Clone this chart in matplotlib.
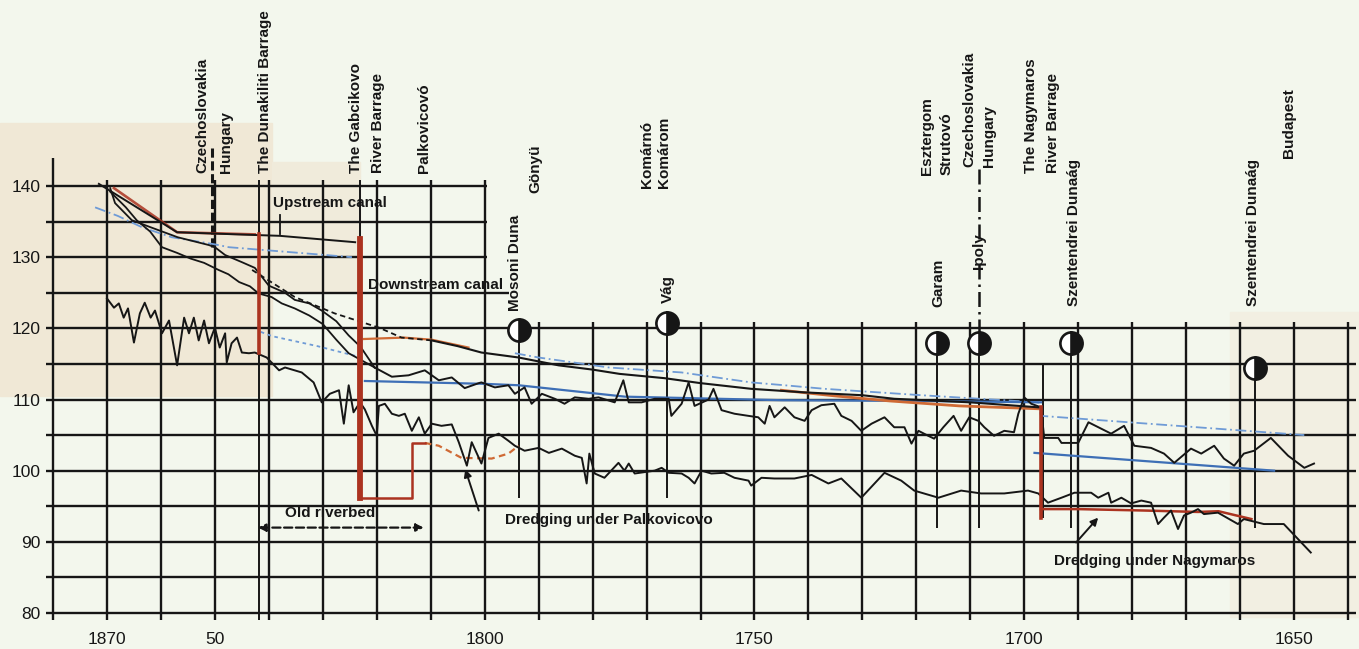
import matplotlib.pyplot as plt
from matplotlib.patches import Rectangle

plt.rcParams['font.family'] = ['Liberation Sans', 'DejaVu Sans']

# ---- data: river km (x) and elevation in m a.s.l. (y) ----
top_km = [1871.5, 1857.0, 1842.0, 1838.0, 1824.0]
top_el = [140.3, 133.5, 133.1, 133.0, 132.1]

red_top_km = [1868.7, 1857.0, 1842.6]
red_top_el = [139.7, 133.5, 133.2]

l2_km = [1869.4, 1868.5, 1865.4, 1861.9, 1856.9, 1851.1, 1850.0, 1848.1, 1845.0, 1842.6,
         1840.0, 1837.0, 1835.2, 1832.5, 1830.2, 1827.5, 1825.2, 1823.0, 1820.4]
l2_el = [139.7, 137.6, 135.2, 134.2, 132.8, 131.7, 131.4, 130.3, 129.3, 128.5,
         126.0, 125.0, 124.0, 123.5, 122.5, 121.0, 119.0, 117.4, 114.5]

l3_km = [1869.4, 1866.5, 1864.5, 1862.0, 1859.8, 1857.0, 1854.5, 1852.0, 1849.3, 1847.5,
         1845.5, 1843.5, 1841.9, 1839.5, 1837.6, 1835.2, 1832.5, 1830.0, 1827.5, 1825.2, 1820.4]
l3_el = [139.2, 137.0, 135.2, 133.6, 131.4, 130.6, 129.8, 129.2, 128.2, 127.6,
         126.5, 125.9, 124.9, 124.4, 123.5, 122.8, 121.8, 120.6, 118.4, 116.5, 114.5]

dash_km = [1843.1, 1835.2, 1827.8, 1819.6, 1815.4, 1809.8]
dash_el = [128.2, 124.4, 122.1, 120.1, 118.7, 118.3]

tail_km = [1822.4, 1815.0, 1809.8, 1803.0]
tail_el = [118.5, 118.7, 118.4, 117.3]

b_km = [1809.8, 1805.0, 1800.6, 1793.7, 1786.3, 1780.0, 1775.0, 1766.7, 1760.0, 1750.6,
        1740.7, 1730.0, 1724.1, 1710.0, 1697.4]
b_el = [118.3, 117.5, 116.6, 115.9, 114.8, 114.2, 113.6, 113.0, 112.3, 111.5,
        111.0, 110.6, 110.1, 109.6, 108.9]

red_res_km = [1745.0, 1735.0, 1725.0, 1712.0, 1697.4]
red_res_el = [111.3, 110.5, 109.8, 109.1, 108.7]

m_km = [1820.4, 1817.2, 1814.1, 1811.1, 1808.5, 1806.1, 1803.7, 1801.1, 1800.6, 1798.1,
        1795.6, 1794.4, 1792.6, 1791.3, 1789.4, 1787.0, 1785.2, 1783.3, 1780.7, 1778.9,
        1775.9, 1774.3, 1773.3, 1770.9, 1768.5, 1765.9, 1765.4, 1763.5, 1762.2, 1761.1,
        1758.5, 1757.6, 1756.1, 1753.7, 1751.1, 1749.3, 1748.1, 1747.2, 1746.3, 1744.4,
        1742.6, 1740.7, 1739.4, 1737.6, 1735.2, 1733.9, 1732.0, 1730.2, 1728.3, 1725.9,
        1724.1, 1722.2, 1720.9, 1719.6, 1717.8, 1716.7, 1715.0, 1713.1, 1711.7, 1710.2,
        1708.5, 1707.4, 1705.6, 1703.7, 1701.9, 1701.1, 1700.0, 1698.7, 1696.9, 1696.3,
        1693.7, 1693.1, 1690.0, 1688.1, 1683.9, 1681.5, 1679.6, 1676.5, 1674.1, 1672.2,
        1669.1, 1667.2, 1664.8, 1663.0, 1661.1, 1659.3, 1657.4, 1654.3, 1651.1, 1648.1, 1646.3]
m_el = [114.5, 113.2, 113.4, 114.1, 112.7, 113.1, 111.6, 112.3, 112.4, 111.7,
        112.0, 110.8, 111.7, 109.4, 110.8, 110.1, 109.4, 110.3, 110.1, 110.3,
        109.6, 112.7, 109.6, 109.6, 110.1, 110.1, 107.7, 109.4, 112.4, 109.1,
        110.0, 111.5, 108.5, 108.0, 107.7, 107.5, 106.6, 109.1, 107.5, 108.9,
        107.5, 107.0, 108.5, 109.2, 109.4, 107.7, 107.0, 105.6, 106.6, 107.5,
        106.1, 106.1, 103.8, 105.6, 104.9, 104.5, 106.1, 107.7, 105.6, 107.5,
        107.0, 106.1, 104.9, 105.6, 105.4, 108.0, 110.3, 109.4, 108.9, 104.6,
        104.6, 103.9, 103.9, 106.8, 105.2, 106.3, 103.5, 103.2, 102.4, 101.1,
        103.1, 102.4, 103.5, 101.7, 100.7, 102.4, 102.8, 104.6, 102.1, 100.4, 101.0]

e_km = [1870.0, 1868.7, 1867.8, 1866.9, 1866.1, 1865.0, 1863.9, 1863.0, 1861.9, 1861.1,
        1859.8, 1858.5, 1857.0, 1855.7, 1854.8, 1853.9, 1853.0, 1852.0, 1851.1, 1850.0,
        1849.1, 1848.1, 1847.8, 1846.9, 1845.9, 1845.0, 1843.7, 1842.6, 1840.4, 1838.1,
        1837.0, 1833.9, 1831.7, 1830.2, 1828.7, 1827.0, 1826.1, 1825.2, 1824.3, 1823.1,
        1822.2, 1820.9, 1820.0, 1819.6, 1818.5, 1817.2, 1815.9, 1814.8, 1813.5, 1812.2,
        1811.1, 1809.8, 1808.0, 1806.1, 1804.8, 1803.3, 1802.4, 1800.6, 1799.3, 1797.4,
        1795.6, 1794.4, 1792.6, 1790.0, 1788.1, 1785.7, 1783.3, 1782.0, 1781.1, 1780.6,
        1779.6, 1777.8, 1775.2, 1774.1, 1773.3, 1772.2, 1768.5, 1767.2, 1765.9, 1763.5,
        1762.2, 1761.1, 1759.8, 1758.0, 1755.6, 1753.7, 1751.1, 1750.6, 1748.7, 1746.3,
        1742.6, 1739.4, 1736.3, 1733.9, 1730.2, 1725.9, 1722.8, 1720.4, 1715.9, 1711.7,
        1708.0, 1703.7, 1699.3, 1697.4, 1695.6, 1693.1, 1690.7, 1687.6, 1686.3, 1684.4,
        1683.9, 1682.0, 1680.2, 1678.3, 1676.5, 1675.2, 1674.1, 1672.8, 1671.5, 1670.4,
        1669.1, 1667.8, 1666.7, 1664.1, 1660.4, 1659.3, 1656.7, 1655.6, 1651.9, 1646.9]
e_el = [124.2, 122.9, 123.5, 121.5, 122.8, 118.0, 122.1, 123.6, 121.5, 122.5,
        119.3, 121.1, 114.8, 121.5, 119.3, 121.5, 118.3, 121.1, 117.9, 120.1,
        117.3, 119.3, 115.2, 117.9, 118.7, 116.6, 116.5, 116.6, 115.9, 114.1,
        114.5, 113.8, 112.4, 109.6, 110.8, 111.3, 106.6, 112.0, 108.2, 109.6,
        108.6, 106.3, 104.9, 109.1, 109.4, 108.0, 107.7, 108.0, 105.6, 107.5,
        105.2, 106.6, 106.3, 106.5, 104.0, 100.7, 104.0, 101.0, 104.6, 105.2,
        104.2, 103.5, 102.8, 103.2, 102.5, 103.1, 102.1, 101.8, 98.2, 102.4,
        99.6, 99.0, 101.1, 100.0, 101.0, 99.6, 100.0, 100.4, 99.7, 99.6,
        99.0, 98.2, 100.0, 99.6, 99.7, 99.0, 98.6, 97.9, 99.0, 98.9,
        98.9, 99.4, 98.2, 98.9, 96.2, 99.7, 98.6, 97.2, 96.2, 97.2,
        96.8, 96.8, 97.2, 96.8, 95.5, 96.2, 96.9, 96.9, 96.2, 96.9,
        95.5, 96.2, 95.4, 95.8, 95.5, 92.5, 93.4, 94.4, 91.8, 93.7,
        94.1, 94.6, 93.9, 94.1, 92.5, 93.2, 92.7, 92.5, 92.5, 88.5]

blue_dd_km = [1872.2, 1868.0, 1863.5, 1858.0, 1850.0, 1847.4, 1837.6, 1824.6]
blue_dd_el = [137.0, 135.8, 134.2, 132.8, 131.8, 131.4, 130.8, 130.0]
blue_dd2_km = [1794.4, 1790.0, 1777.0, 1763.5, 1750.6, 1744.4, 1737.0, 1719.0, 1697.4,
               1696.9, 1648.1]
blue_dd2_el = [116.5, 115.9, 114.5, 113.8, 112.4, 112.0, 111.5, 110.6, 109.6,
               107.7, 105.0]
blue_dot_km = [1841.5, 1839.4, 1831.0, 1822.8]
blue_dot_el = [119.5, 118.9, 117.5, 115.9]
blue_low_km = [1822.2, 1800.0, 1793.7, 1774.0, 1745.0, 1720.0, 1696.9]
blue_low_el = [112.6, 112.2, 112.0, 110.4, 109.9, 109.8, 109.6]
blue_low2_km = [1698.1, 1653.7]
blue_low2_el = [102.5, 100.0]

# barrages and dredged reaches
duna_km, duna_el = [1841.9, 1841.9], [133.3, 116.6]
gab_km, gab_el = [1823.1, 1823.1], [132.5, 96.2]
gab_box_km = [1823.1, 1813.5, 1813.5, 1811.1]
gab_box_el = [96.2, 96.2, 103.9, 103.9]
dredge1_km = [1811.1, 1808.5, 1804.3, 1798.7, 1795.6, 1793.7]
dredge1_el = [103.9, 103.5, 101.8, 101.7, 102.4, 103.5]
nagy_km, nagy_el = [1696.9, 1696.9], [108.9, 93.4]
dredge2_km = [1696.9, 1690.0, 1677.8, 1667.8, 1664.0, 1657.9]
dredge2_el = [94.6, 94.6, 94.4, 94.2, 94.3, 93.2]

# tributary mouths (circle symbols)
mouth_km = [1793.7, 1766.3, 1716.1, 1708.3, 1691.3, 1657.2]
mouth_el = [119.7, 120.8, 117.9, 117.9, 118.0, 114.4]
mouth_low = [96.2, 96.2, 92.0, 92.0, 92.0, 92.0]

y_ticks = [80, 90, 100, 110, 120, 130, 140]
x_ticks = [1870, 1850, 1800, 1750, 1700, 1650]
x_ticklabels = ['1870', '50', '1800', '1750', '1700', '1650']

labels = [
    ('Czechoslovakia', 1852.4, 141.8), ('Hungary', 1848.0, 141.8),
    ('The Dunakiliti Barrage', 1840.7, 141.8), ('The Gabcikovo', 1823.9, 141.8),
    ('River Barrage', 1819.8, 141.8), ('Palkovicovó', 1811.3, 141.8),
    ('Mosoni Duna', 1794.4, 122.5), ('Gönyü', 1790.6, 139.0),
    ('Komárnó', 1770.0, 139.7), ('Komárom', 1766.7, 139.7), ('Vág', 1766.1, 123.5),
    ('Esztergom', 1718.0, 141.5), ('Strutovó', 1714.4, 141.5),
    ('Czechoslovakia', 1710.2, 142.7), ('Hungary', 1706.5, 142.7),
    ('Garam', 1715.9, 123.0), ('The Nagymaros', 1698.7, 141.8),
    ('River Barrage', 1694.6, 141.8), ('Szentendrei Dunaág', 1690.7, 123.2),
    ('Szentendrei Dunaág', 1657.6, 123.2), ('Budapest', 1650.9, 143.9),
]

INK = '#161616'
RED = '#ab3320'
ORANGE = '#cf6a35'
BLUE = '#3e6fb6'
LBLUE = '#6f9bd6'

fig = plt.figure(figsize=(13.59, 6.49), dpi=100)
fig.patch.set_facecolor('#f3f7ed')
# scan tint behind parts of the sheet
fig.add_artist(Rectangle((0.0, 0.39), 0.2, 0.42, transform=fig.transFigure,
                         color='#f0e8d6', zorder=-2))
fig.add_artist(Rectangle((0.2, 0.55), 0.065, 0.2, transform=fig.transFigure,
                         color='#f0ebdb', zorder=-2))
fig.add_artist(Rectangle((0.905, 0.05), 0.095, 0.47, transform=fig.transFigure,
                         color='#f2efe2', zorder=-2))

ax = fig.add_axes([53 / 1359, 36 / 649, 1295 / 1359, 427 / 649])
ax.set_facecolor('none')
ax.set_xlim(1880, 1640)
ax.set_ylim(80, 140)
for s in ax.spines.values():
    s.set_visible(False)

kw = dict(clip_on=False)

# grid
ax.hlines(list(range(80, 121, 5)), 1881.3, 1638.6, color=INK, lw=1.7, zorder=1, **kw)
ax.hlines([130, 135, 140], 1881.3, 1799.6, color=INK, lw=1.7, zorder=1, **kw)
ax.hlines([125], 1881.3, 1795.5, color=INK, lw=1.7, zorder=1, **kw)
ax.vlines(list(range(1800, 1871, 10)), 79, 140.8, color=INK, lw=1.7, zorder=1, **kw)
ax.vlines(list(range(1640, 1800, 10)), 79, 120.9, color=INK, lw=1.7, zorder=1, **kw)
ax.vlines([1880], 79, 144, color=INK, lw=1.7, zorder=1, **kw)

# location lines
ax.vlines([1841.9], 79, 140.8, color=INK, lw=1.4, zorder=1, **kw)
ax.vlines([1823.1], 96, 140.8, color=INK, lw=1.4, zorder=1, **kw)
ax.vlines([1696.6], 93.4, 115.0, color=INK, lw=1.4, zorder=1, **kw)
ax.vlines(mouth_km, mouth_low, [m + 1.6 for m in mouth_el], color=INK, lw=1.4, zorder=1, **kw)
ax.plot([1850.5, 1850.5], [145.4, 131.3], color=INK, lw=2.2, ls=(0, (3, 1.2)), zorder=2, **kw)
ax.plot([1708.3, 1708.3], [142.4, 132.6], color=INK, lw=1.8, ls=(0, (6, 2, 1, 2)), zorder=2, **kw)
ax.plot([1708.3, 1708.3], [129.0, 119.5], color=INK, lw=1.8, ls=(0, (6, 2, 1, 2)), zorder=2, **kw)
ax.plot([1838, 1838], [135.9, 133.2], color=INK, lw=1.3, zorder=2, **kw)

# blue levels
ax.plot(blue_dd_km, blue_dd_el, color=LBLUE, lw=1.3, ls=(0, (6, 2, 1, 2)), zorder=2, **kw)
ax.plot(blue_dd2_km, blue_dd2_el, color=LBLUE, lw=1.3, ls=(0, (6, 2, 1, 2)), zorder=2, **kw)
ax.plot(blue_dot_km, blue_dot_el, color=LBLUE, lw=1.3, ls=(0, (2, 2)), zorder=2, **kw)
ax.plot(blue_low_km, blue_low_el, color=BLUE, lw=1.6, zorder=2, **kw)
ax.plot(blue_low2_km, blue_low2_el, color=BLUE, lw=1.6, zorder=2, **kw)

# planned levels (red / orange) under the black profiles
ax.plot(red_top_km, red_top_el, color=RED, lw=1.9, alpha=0.85, zorder=3, **kw)
ax.plot(red_res_km, red_res_el, color=ORANGE, lw=2.0, zorder=3, **kw)
ax.plot(tail_km, tail_el, color=ORANGE, lw=1.6, zorder=3, **kw)
ax.plot(dredge1_km, dredge1_el, color=ORANGE, lw=1.6, ls=(0, (3, 2)), zorder=3, **kw)
ax.plot(dredge2_km, dredge2_el, color=RED, lw=1.8, zorder=3, **kw)

# black profiles
ax.plot(top_km, top_el, color=INK, lw=1.4, zorder=4, **kw)
ax.plot(l2_km, l2_el, color=INK, lw=1.3, zorder=4, **kw)
ax.plot(l3_km, l3_el, color=INK, lw=1.3, zorder=4, **kw)
ax.plot(dash_km, dash_el, color=INK, lw=1.3, ls=(0, (3, 2)), zorder=4, **kw)
ax.plot(b_km, b_el, color=INK, lw=1.5, zorder=4, **kw)
ax.plot(m_km, m_el, color=INK, lw=1.4, zorder=4, **kw)
ax.plot(e_km, e_el, color=INK, lw=1.4, zorder=4, **kw)

# barrages
ax.plot(duna_km, duna_el, color=RED, lw=2.6, zorder=5, **kw)
ax.plot(gab_km, gab_el, color=RED, lw=4.2, zorder=5, **kw)
ax.plot(gab_box_km, gab_box_el, color=RED, lw=1.8, zorder=5, **kw)
ax.plot(nagy_km, nagy_el, color=RED, lw=2.6, zorder=5, **kw)

# tributary symbols
ax.plot(mouth_km, mouth_el, ls='none', marker='o', ms=16, fillstyle='right',
        markerfacecolor=INK, markerfacecoloralt='white', markeredgecolor=INK,
        markeredgewidth=1.9, zorder=6, **kw)

# ticks
ax.set_yticks(y_ticks)
ax.set_xticks(x_ticks)
ax.set_xticklabels(x_ticklabels)
ax.tick_params(axis='both', length=0, labelsize=12.5, colors=INK)
ax.tick_params(axis='y', pad=9)
ax.tick_params(axis='x', pad=14)

# place names
tkw = dict(fontsize=11, fontweight='bold', color=INK, zorder=7)
for name, km, el in labels:
    ax.text(km, el, name, rotation=90, ha='center', va='bottom', **tkw, **kw)
ax.text(1708.3, 130.8, 'Ipoly', rotation=90, ha='center', va='center', **tkw, **kw)

ax.text(1839.3, 137.6, 'Upstream canal', ha='left', va='center', **tkw, **kw)
ax.text(1821.6, 125.1, 'Downstream canal', ha='left', va='bottom', **tkw, **kw)
ax.text(1837.0, 94.1, 'Old riverbed', ha='left', va='center', **tkw, **kw)
ax.text(1796.3, 93.0, 'Dredging under Palkovicovo', ha='left', va='center', **tkw, **kw)
ax.text(1694.4, 87.3, 'Dredging under Nagymaros', ha='left', va='center', **tkw, **kw)

ax.annotate('', xy=(1811.3, 92.0), xytext=(1842.0, 92.0),
            arrowprops=dict(arrowstyle='<|-|>', ls='--', color=INK, lw=1.6,
                            mutation_scale=11, shrinkA=0, shrinkB=0))
ax.annotate('', xy=(1803.6, 100.2), xytext=(1801.1, 94.4),
            arrowprops=dict(arrowstyle='-|>', color=INK, lw=1.4,
                            mutation_scale=11, shrinkA=0, shrinkB=0))
ax.annotate('', xy=(1686.3, 93.4), xytext=(1690.4, 89.9),
            arrowprops=dict(arrowstyle='-|>', color=INK, lw=1.4,
                            mutation_scale=11, shrinkA=0, shrinkB=0))

fig.savefig('out.png', dpi=100, facecolor=fig.get_facecolor())
